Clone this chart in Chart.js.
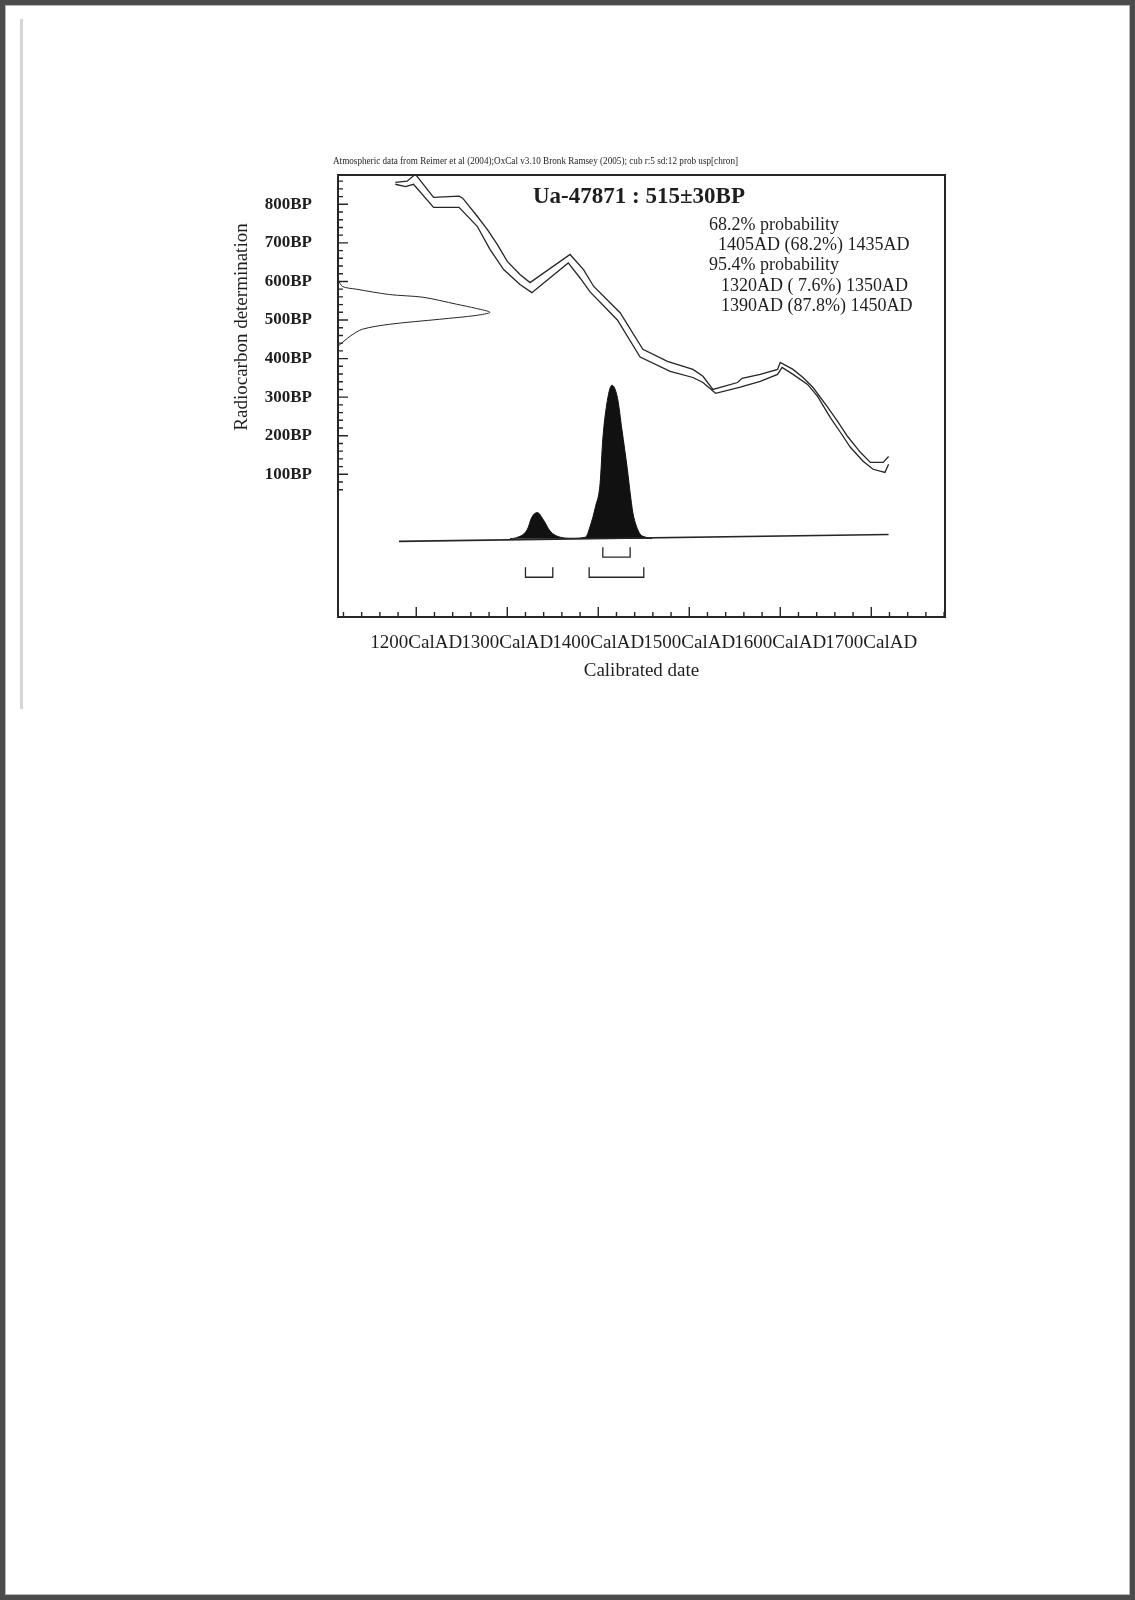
<!DOCTYPE html>
<html>
<head>
<meta charset="utf-8">
<script src="https://cdn.jsdelivr.net/npm/chart.js@4.4.1/dist/chart.umd.min.js"></script>
<style>
html, body { margin: 0; padding: 0; background: #fff; }
#page { position: absolute; left: 0; top: 0; width: 1135px; height: 1600px; box-sizing: border-box;
        border: 5px solid #4b4b4b; box-shadow: inset 0 0 0 1px #b5b5b5; background: #fff; }
#scanline { position: absolute; left: 15px; top: 14px; width: 3px; height: 690px; background: #d6d6d6; }
#plot { position: absolute; left: 0; top: 0; }
</style>
</head>
<body>
<div id="page"><div id="scanline"></div></div>
<canvas id="plot" width="1135" height="1600"></canvas>
<script>
// calibration curve, upper and lower 1 sigma lines (cal AD, BP)
const upperYears = [1177, 1190, 1199, 1219, 1247, 1251, 1267, 1278, 1289, 1300, 1314, 1325, 1369, 1384, 1395, 1424,
    1449, 1476, 1504, 1515, 1526, 1553, 1558, 1578, 1597, 1600, 1614, 1625, 1636, 1652, 1663, 1674, 1688, 1699, 1713, 1719];
const upperBP = [857, 860, 878, 818, 821, 816, 769, 735, 696, 652, 618, 597, 670, 630, 587, 519,
    424, 393, 372, 354, 320, 338, 349, 359, 372, 390, 372, 351, 325, 274, 237, 198, 157, 131, 131, 146];
const lowerYears = [1177, 1188, 1197, 1219, 1247, 1267, 1281, 1296, 1314, 1327, 1367, 1380, 1391, 1421, 1446, 1479,
    1504, 1515, 1529, 1556, 1578, 1597, 1602, 1614, 1630, 1641, 1655, 1666, 1677, 1691, 1702, 1715, 1719];
const lowerBP = [852, 846, 852, 792, 792, 743, 683, 631, 592, 571, 648, 609, 573, 500, 404, 367,
    351, 338, 310, 326, 341, 359, 377, 359, 333, 302, 247, 209, 170, 134, 113, 105, 126];

// radiocarbon measurement 515±30BP, relative density
const c14BP = [605, 587, 580, 566, 559, 541, 530, 520, 512, 502, 489, 476, 458, 432];
const c14Density = [0, 0.03, 0.12, 0.34, 0.56, 0.78, 0.91, 1.0, 0.91, 0.67, 0.34, 0.16, 0.08, 0];

// calibrated date distribution, relative probability
const calYears = [1303, 1309, 1322, 1327, 1333, 1340, 1347, 1358, 1371, 1386, 1391, 1397, 1402, 1405, 1410,
    1415, 1421, 1426, 1432, 1435, 1438, 1442, 1446, 1452, 1459];
const calProb = [0, 0.005, 0.06, 0.14, 0.17, 0.12, 0.05, 0.01, 0.003, 0.01, 0.08, 0.21, 0.36, 0.65, 0.9,
    1.0, 0.92, 0.71, 0.45, 0.3, 0.17, 0.08, 0.03, 0.01, 0];
const baselineYears = [1181, 1719];
const baselineBP = [-74, -56];

const ranges68 = [[1405, 1435]];
const ranges95 = [[1320, 1350], [1390, 1450]];

const xTickValues = [1200, 1300, 1400, 1500, 1600, 1700];
const yTickValues = [100, 200, 300, 400, 500, 600, 700, 800];

const titleText = "Ua-47871 : 515\u00b130BP";
const headerText = "Atmospheric data from Reimer et al (2004);OxCal v3.10 Bronk Ramsey (2005); cub r:5 sd:12 prob usp[chron]";
const probLines = ["68.2% probability", "1405AD (68.2%) 1435AD", "95.4% probability",
    "1320AD ( 7.6%) 1350AD", "1390AD (87.8%) 1450AD"];

// plot geometry (pixels) and mapping of the two density plots
const AREA = { left: 338, top: 175, right: 945, bottom: 617 };
const xMin = 1114, xMax = 1781, yMin = -270, yMax = 876;
const c14Span = 167;          // years of x for density 1
const distBase = -67, distHeight = 398;
const INK = "#262626";
const SERIF = '"Liberation Serif", "Times New Roman", serif';

const pts = (xs, ys) => xs.map((x, i) => ({ x, y: ys[i] }));

function bracket(r, bottom) {
    return [{ x: r[0], y: bottom + 26 }, { x: r[0], y: bottom }, { x: r[1], y: bottom }, { x: r[1], y: bottom + 26 }];
}

const lineDs = (data, extra) => Object.assign({
    data, borderColor: INK, borderWidth: 1.3, pointRadius: 0, tension: 0, fill: false
}, extra || {});

const datasets = [
    lineDs(pts(upperYears, upperBP)),
    lineDs(pts(lowerYears, lowerBP)),
    lineDs(c14BP.map((b, i) => ({ x: xMin + c14Density[i] * c14Span, y: b })), { tension: 0.3, borderWidth: 1 }),
    lineDs(pts(baselineYears, baselineBP), { borderWidth: 1.6 }),
    lineDs(calYears.map((y, i) => ({ x: y, y: distBase + calProb[i] * distHeight })),
        { cubicInterpolationMode: "monotone", fill: { value: distBase }, backgroundColor: "#111",
          borderColor: "#111", borderWidth: 1 }),
];
ranges68.forEach(r => datasets.push(lineDs(bracket(r, -115), { borderWidth: 1.3 })));
ranges95.forEach(r => datasets.push(lineDs(bracket(r, -167), { borderWidth: 1.3 })));

const decorations = {
    id: "decorations",
    afterDraw(chart) {
        const ctx = chart.ctx, a = chart.chartArea;
        const xs = chart.scales.x, ys = chart.scales.y;
        ctx.save();
        ctx.strokeStyle = INK;
        ctx.lineWidth = 1.4;
        ctx.beginPath();
        for (let v = 1120; v <= 1780; v += 20) {
            const px = xs.getPixelForValue(v);
            ctx.moveTo(px, a.bottom);
            ctx.lineTo(px, a.bottom - (v % 100 === 0 ? 10 : 5));
        }
        for (let v = 60; v <= 860; v += 20) {
            const py = ys.getPixelForValue(v);
            ctx.moveTo(a.left, py);
            ctx.lineTo(a.left + (v % 100 === 0 ? 10 : 5), py);
        }
        ctx.stroke();

        ctx.lineWidth = 2;
        ctx.strokeRect(a.left, a.top, a.right - a.left, a.bottom - a.top);

        ctx.fillStyle = "#1e1e1e";
        ctx.textBaseline = "middle";
        ctx.textAlign = "left";
        ctx.font = "10px " + SERIF;
        ctx.fillText(headerText, 333, 161, 405);

        ctx.font = "bold 23px " + SERIF;
        ctx.textBaseline = "alphabetic";
        ctx.fillText(titleText, 533, 203, 212);

        ctx.font = "18px " + SERIF;
        ctx.textBaseline = "middle";
        const px = [709, 718, 709, 721, 721];
        const py = [225, 245, 265, 286, 306];
        probLines.forEach((t, i) => ctx.fillText(t, px[i], py[i]));

        ctx.font = "19px " + SERIF;
        ctx.textAlign = "center";
        ctx.fillText("Calibrated date", (a.left + a.right) / 2, 671);
        ctx.translate(242, 327);
        ctx.rotate(-Math.PI / 2);
        ctx.fillText("Radiocarbon determination", 0, 0);
        ctx.restore();
    }
};

const yAxisWidth = 110, xAxisHeight = 50;

new Chart(document.getElementById("plot"), {
    type: "line",
    data: { datasets },
    options: {
        responsive: false,
        animation: false,
        layout: { padding: { left: AREA.left - yAxisWidth, top: AREA.top, right: 1135 - AREA.right,
            bottom: 1600 - AREA.bottom - xAxisHeight } },
        plugins: { legend: { display: false }, tooltip: { enabled: false } },
        scales: {
            x: {
                type: "linear", min: xMin, max: xMax,
                afterFit(s) { s.height = xAxisHeight; },
                afterBuildTicks(s) { s.ticks = xTickValues.map(v => ({ value: v })); },
                grid: { display: false }, border: { display: false },
                ticks: { color: "#1e1e1e", padding: 7, maxRotation: 0, autoSkip: false,
                    font: { family: SERIF, size: 19 }, callback: v => v + "CalAD" }
            },
            y: {
                type: "linear", min: yMin, max: yMax,
                afterFit(s) { s.width = yAxisWidth; },
                afterBuildTicks(s) { s.ticks = yTickValues.map(v => ({ value: v })); },
                grid: { display: false }, border: { display: false },
                ticks: { color: "#1e1e1e", padding: 18, autoSkip: false,
                    font: { family: SERIF, size: 17, weight: "bold" }, callback: v => v + "BP" }
            }
        }
    },
    plugins: [decorations]
});
</script>
</body>
</html>
